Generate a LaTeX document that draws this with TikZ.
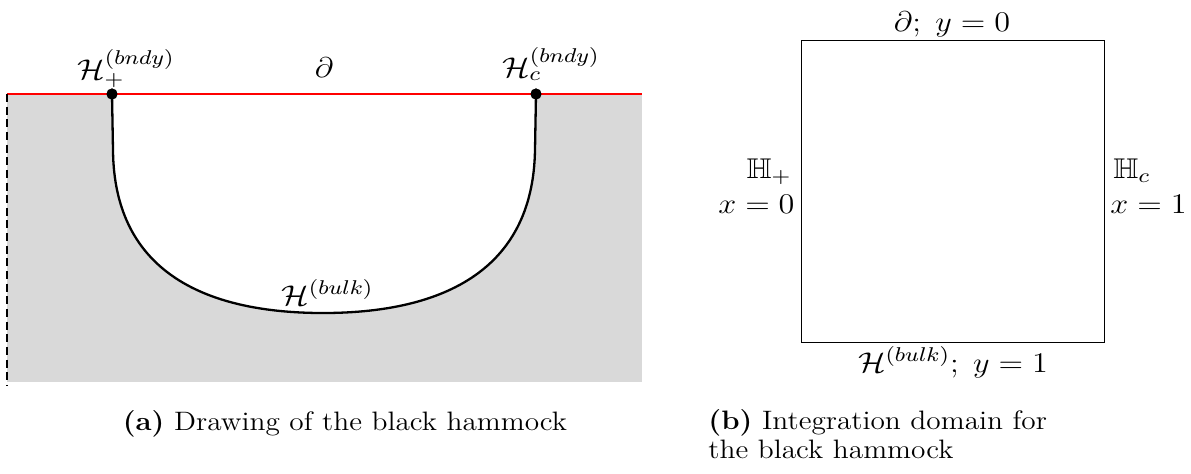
\RequirePackage{fix-cm}
\documentclass[tikz,border=0pt]{standalone}
\usepackage{amssymb}
\definecolor{hgray}{RGB}{217,217,217}
\newcommand{\hs}[1]{\scalebox{1.13}[1]{#1}}
\newcommand{\hc}[1]{\scalebox{1.1}[1]{#1}}
\tikzset{
  lbl/.style={inner sep=0pt, font=\fontsize{12.4}{15}\selectfont},
  captxt/.style={inner sep=0pt, font=\fontsize{11.6}{13}\selectfont},
  bdot/.style={circle, fill=black, inner sep=0pt, minimum size=4.8pt},
  hammock/.style={line width=1pt},
  bnd/.style={red, line width=0.6pt},
  frm/.style={line width=0.4pt},
  sideline/.style={line width=0.5pt, dash pattern=on 3.5pt off 2pt},
}
\begin{document}
\begin{tikzpicture}[x=0.435pt, y=-0.435pt]
\useasboundingbox (0,0) rectangle (1191,473);
% ---- panel (a) ----
\coordinate (tl) at (7,94);
\coordinate (tr) at (642,94);
\coordinate (br) at (642,382);
\coordinate (bld) at (7,385);
\fill[hgray] (tl) rectangle (br);
\fill[white] (112,94) -- (113,150) .. controls (114,275) and (210,313) .. (323,313)
  .. controls (436,313) and (533,275) .. (535,150) -- (536,94) -- cycle;
\node[bdot] (hp) at (112,94) {};
\node[bdot] (hc) at (536,94) {};
\draw[hammock] (hp.center) -- (113,150) .. controls (114,275) and (210,313) .. (323,313)
  .. controls (436,313) and (533,275) .. (535,150) -- (hc.center);
\draw[bnd] (tl) -- (tr);
\node[bdot] at (hp) {};
\node[bdot] at (hc) {};
\draw[sideline] (tl) -- (bld);
\node[lbl, anchor=base west] (lhp) at (77,79) {\hs{$\mathcal{H}_+^{(bndy)}$}};
\node[lbl, anchor=base] (ld) at (324,77) {\hs{$\partial$}};
\node[lbl, anchor=base west] (lhc) at (502,77) {\hs{$\mathcal{H}_c^{(bndy)}$}};
\node[lbl, anchor=base west] (lhb) at (281,305) {\hs{$\mathcal{H}^{(bulk)}$}};
\node[captxt, anchor=base] (capa) at (345,430) {\hc{\textbf{(a)} Drawing of the black hammock}};
% ---- panel (b) ----
\draw[frm] (801,40) rectangle (1104,342);
\node[lbl, anchor=base] (top) at (952,31) {\hs{$\partial;\;y=0$}};
\node[lbl, anchor=base] (bot) at (953,372) {\hs{$\mathcal{H}^{(bulk)};\;y=1$}};
\node[lbl, anchor=base east] (lh1) at (792,178) {\hs{$\mathbb{H}_+$}};
\node[lbl, anchor=base east] (lx0) at (795,213) {\hs{$x=0$}};
\node[lbl, anchor=base west] (rh1) at (1113,178) {\hs{$\mathbb{H}_c$}};
\node[lbl, anchor=base west] (rx1) at (1110,213) {\hs{$x=1$}};
\node[captxt, anchor=base west] (capb1) at (708,429) {\hc{\textbf{(b)} Integration domain for}};
\node[captxt, anchor=base west] (capb2) at (708,458) {\hc{the black hammock}};
\end{tikzpicture}
\end{document}
